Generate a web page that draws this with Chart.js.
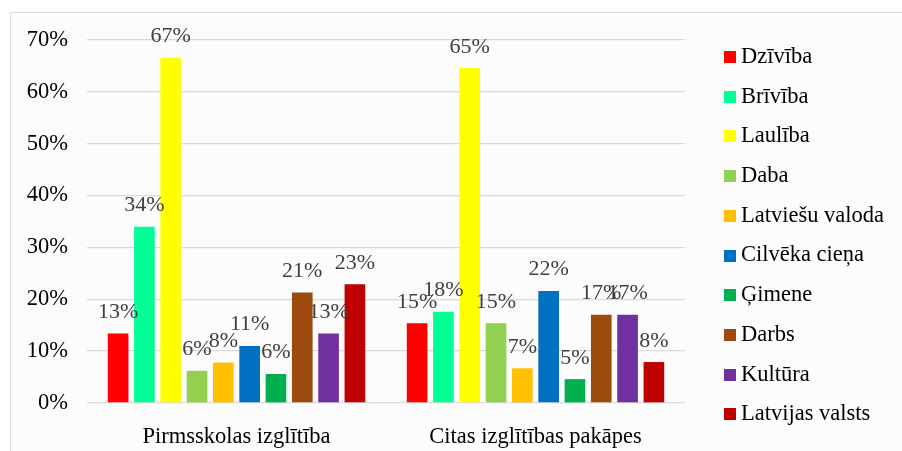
<!DOCTYPE html>
<html>
<head>
<meta charset="utf-8">
<script src="https://cdn.jsdelivr.net/npm/chart.js@4"></script>
<style>
  body { margin: 0; background: #fff; }
  canvas { display: block; }
</style>
</head>
<body>
<canvas id="chart" width="902" height="451"></canvas>
<script>
// categories on the x axis
const groups = ['Pirmsskolas izglītība', 'Citas izglītības pakāpes'];

// one bar series per value
const values = ['Dzīvība', 'Brīvība', 'Laulība', 'Daba', 'Latviešu valoda',
  'Cilvēka cieņa', 'Ģimene', 'Darbs', 'Kultūra', 'Latvijas valsts'];

// shares in percent, same order as values
const preschool = [13.4, 34.0, 66.6, 6.2, 7.8, 11.0, 5.6, 21.3, 13.4, 22.9];
const otherLevels = [15.4, 17.6, 64.6, 15.4, 6.7, 21.6, 4.6, 17.0, 17.0, 7.9];

const yTicks = [0, 10, 20, 30, 40, 50, 60, 70];

const colors = ['#ff0000', '#00ff95', '#ffff00', '#92d050', '#ffc000',
  '#0070c0', '#00b050', '#9c4a0e', '#7030a0', '#c00000'];

const serif = '"Liberation Serif", "Times New Roman", serif';

// light frame around the whole chart, like the Excel chart area
const frame = {
  id: 'frame',
  beforeDraw(chart) {
    const ctx = chart.ctx;
    ctx.save();
    ctx.fillStyle = '#fff';
    ctx.fillRect(0, 0, chart.width, chart.height);
    ctx.fillStyle = '#fcfcfc';
    ctx.fillRect(10, 12, chart.width, chart.height);
    ctx.strokeStyle = '#dcdcdc';
    ctx.lineWidth = 1;
    ctx.strokeRect(10.5, 12.5, chart.width, chart.height);
    ctx.restore();
  }
};

// percent labels over each bar
const valueLabels = {
  id: 'valueLabels',
  afterDatasetsDraw(chart) {
    const ctx = chart.ctx;
    ctx.save();
    ctx.font = '22px ' + serif;
    ctx.fillStyle = '#404040';
    ctx.textAlign = 'center';
    ctx.textBaseline = 'alphabetic';
    chart.data.datasets.forEach((ds, i) => {
      chart.getDatasetMeta(i).data.forEach((bar, j) => {
        ctx.fillText(Math.round(ds.data[j]) + '%', bar.x, bar.y - 15.5);
      });
    });
    ctx.restore();
  }
};

// legend drawn by hand so the rows sit where the original has them
const sideLegend = {
  id: 'sideLegend',
  afterDraw(chart) {
    const ctx = chart.ctx;
    ctx.save();
    ctx.font = '22.5px ' + serif;
    ctx.textBaseline = 'middle';
    ctx.textAlign = 'left';
    chart.data.datasets.forEach((ds, i) => {
      const y = 57 + i * 39.7;
      ctx.fillStyle = ds.backgroundColor;
      ctx.fillRect(724, Math.round(y - 6), 12, 12);
      ctx.fillStyle = '#000';
      ctx.fillText(ds.label, 741, y);
    });
    ctx.restore();
  }
};

const datasets = values.map((name, i) => ({
  label: name,
  data: [preschool[i], otherLevels[i]],
  backgroundColor: colors[i],
  categoryPercentage: 0.88,
  barPercentage: 0.785
}));

new Chart(document.getElementById('chart'), {
  type: 'bar',
  data: { labels: groups, datasets: datasets },
  plugins: [frame, valueLabels, sideLegend],
  options: {
    responsive: false,
    animation: false,
    layout: { padding: { left: 10, right: 217, top: 40, bottom: 0 } },
    plugins: {
      legend: { display: false },
      tooltip: { enabled: false }
    },
    scales: {
      x: {
        grid: { display: false },
        border: { display: false },
        ticks: { color: '#000', padding: 13, font: { family: serif, size: 22.5 } },
        afterFit: (scale) => { scale.height = 48; }
      },
      y: {
        min: 0,
        max: 70,
        afterBuildTicks: (scale) => { scale.ticks = yTicks.map(v => ({ value: v })); },
        ticks: {
          color: '#000',
          padding: 19,
          font: { family: serif, size: 22.5 },
          callback: (v) => v + '%'
        },
        grid: { color: '#d9d9d9', lineWidth: 1.3, drawTicks: false },
        border: { display: false },
        afterFit: (scale) => { scale.width = 77; }
      }
    }
  }
});
</script>
</body>
</html>
